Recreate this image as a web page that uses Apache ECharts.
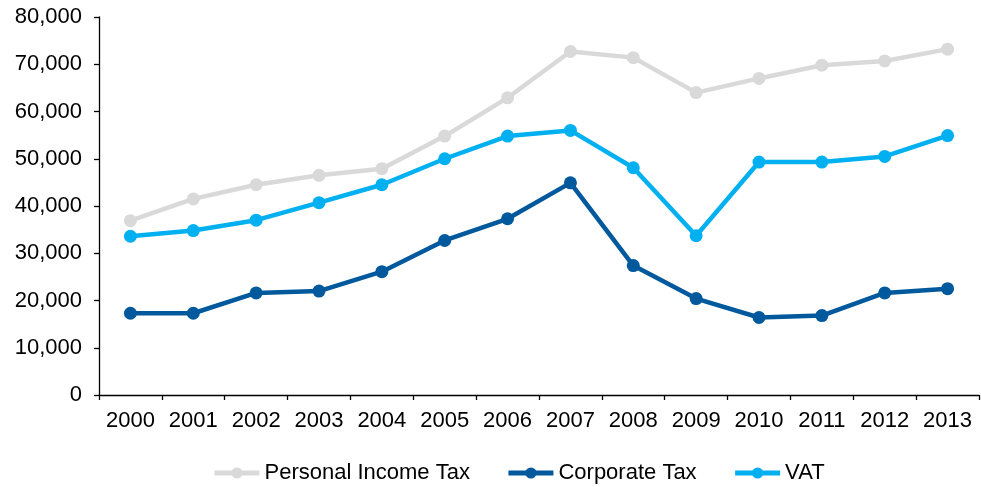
<!DOCTYPE html>
<html><head><meta charset="utf-8">
<script src="https://cdn.jsdelivr.net/npm/echarts@6/dist/echarts.min.js"></script>
<style>html,body{margin:0;padding:0;background:#fff}#c{width:981px;height:487px}</style>
</head><body><div id="c"></div>
<script>
const years = ['2000','2001','2002','2003','2004','2005','2006','2007','2008','2009','2010','2011','2012','2013'];
const personalIncomeTax = [36900,41500,44500,46500,47900,54800,62900,72700,71400,64000,67000,69800,70700,73200];
const corporateTax = [17300,17300,21600,22000,26100,32700,37300,44900,27400,20400,16400,16800,21600,22500];
const vat = [33600,34800,37000,40700,44500,50000,54800,56000,48100,33700,49300,49300,50500,54900];
const yTicks = {min:0,max:80000,interval:10000};

const font = 'Liberation Sans, Arial, sans-serif';
function mk(name, data, color){
  return {name, type:'line', data, symbol:'circle', symbolSize:13,
    lineStyle:{width:4.5,color}, itemStyle:{color}, animation:false};
}
const chart = echarts.init(document.getElementById('c'));
chart.setOption({
  animation:false,
  grid:{left:99,right:2,top:17,bottom:92,containLabel:false},
  legend:{top:457,left:207,itemWidth:45,itemHeight:14,itemGap:36,
    lineStyle:{width:5},
    textStyle:{fontFamily:font,fontSize:22,color:'#000'},
    data:['Personal Income Tax','Corporate Tax','VAT']},
  xAxis:{type:'category',data:years,boundaryGap:true,
    axisLine:{lineStyle:{color:'#000',width:1.3}},
    axisTick:{show:true,inside:false,length:5,interval:0,lineStyle:{color:'#000',width:1.3}},
    axisLabel:{fontFamily:font,fontSize:22,color:'#000',margin:15,interval:0}},
  yAxis:{type:'value',min:yTicks.min,max:yTicks.max,interval:yTicks.interval,
    axisLine:{show:true,lineStyle:{color:'#000',width:1.3}},
    axisTick:{show:true,length:5,lineStyle:{color:'#000',width:1.3}},
    splitLine:{show:false},
    axisLabel:{fontFamily:font,fontSize:22,color:'#000',margin:17,
      formatter:v=>v.toLocaleString('en-US')}},
  series:[mk('Personal Income Tax',personalIncomeTax,'#D9D9D9'),
          mk('Corporate Tax',corporateTax,'#00599C'),
          mk('VAT',vat,'#00B0F0')]
});
</script></body></html>
